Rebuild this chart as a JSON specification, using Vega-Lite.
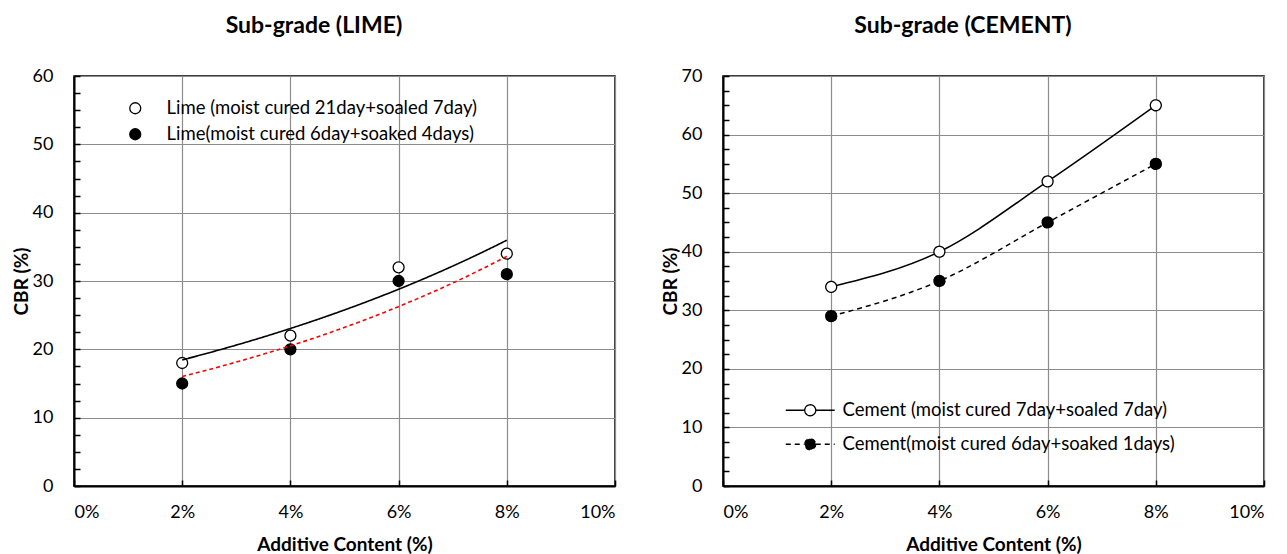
{
  "$schema": "https://vega.github.io/schema/vega-lite/v6.json",
  "background": "white",
  "padding": {"left": 11, "top": 14, "right": 0, "bottom": 0},
  "spacing": 43,
  "config": {
    "font": "Lato",
    "view": {"stroke": "black", "strokeWidth": 1.5},
    "axis": {
      "domainColor": "black",
      "domainWidth": 2,
      "gridColor": "#8c8c8c",
      "gridWidth": 1.2,
      "tickColor": "black",
      "tickWidth": 1.5,
      "tickSize": -6,
      "labelColor": "black",
      "labelFontSize": 18,
      "labelFont": "Lato",
      "titleColor": "black",
      "titleFontSize": 19,
      "titleFontWeight": "bold",
      "titleFont": "Lato"
    },
    "title": {"fontSize": 23, "fontWeight": "bold", "color": "black", "font": "Lato", "frame": "bounds", "anchor": "middle", "offset": 29},
    "legend": {"labelFontSize": 18.5, "labelColor": "black", "labelFont": "Lato", "title": null, "padding": 0, "labelLimit": 600}
  },
  "datasets": {
    "lime": [
      {"series": "Lime (moist cured 21day+soaled 7day)", "x": 0.02, "y": 18},
      {"series": "Lime (moist cured 21day+soaled 7day)", "x": 0.04, "y": 22},
      {"series": "Lime (moist cured 21day+soaled 7day)", "x": 0.06, "y": 32},
      {"series": "Lime (moist cured 21day+soaled 7day)", "x": 0.08, "y": 34},
      {"series": "Lime(moist cured 6day+soaked 4days)", "x": 0.02, "y": 15},
      {"series": "Lime(moist cured 6day+soaked 4days)", "x": 0.04, "y": 20},
      {"series": "Lime(moist cured 6day+soaked 4days)", "x": 0.06, "y": 30},
      {"series": "Lime(moist cured 6day+soaked 4days)", "x": 0.08, "y": 31}
    ],
    "cement": [
      {"series": "Cement (moist cured 7day+soaled 7day)", "x": 0.02, "y": 34},
      {"series": "Cement (moist cured 7day+soaled 7day)", "x": 0.04, "y": 40},
      {"series": "Cement (moist cured 7day+soaled 7day)", "x": 0.06, "y": 52},
      {"series": "Cement (moist cured 7day+soaled 7day)", "x": 0.08, "y": 65},
      {"series": "Cement(moist cured 6day+soaked 1days)", "x": 0.02, "y": 29},
      {"series": "Cement(moist cured 6day+soaked 1days)", "x": 0.04, "y": 35},
      {"series": "Cement(moist cured 6day+soaked 1days)", "x": 0.06, "y": 45},
      {"series": "Cement(moist cured 6day+soaked 1days)", "x": 0.08, "y": 55}
    ]
  },
  "hconcat": [
    {
      "width": 541,
      "height": 410,
      "title": "Sub-grade (LIME)",
      "data": {"name": "lime"},
      "encoding": {
        "x": {"field": "x", "type": "quantitative", "scale": {"domain": [0, 0.1], "nice": false},
          "axis": {"title": "Additive Content (%)", "values": [0, 0.02, 0.04, 0.06, 0.08, 0.1], "format": ".0%", "labelPadding": 23, "titlePadding": 14}},
        "y": {"field": "y", "type": "quantitative", "scale": {"domain": [0, 60], "nice": false},
          "axis": {"title": "CBR (%)", "values": [0, 2.5, 5, 7.5, 10, 12.5, 15, 17.5, 20, 22.5, 25, 27.5, 30, 32.5, 35, 37.5, 40, 42.5, 45, 47.5, 50, 52.5, 55, 57.5, 60],
            "labelExpr": "datum.value % 10 === 0 ? datum.label : ''", "labelOverlap": false, "labelPadding": 27, "titlePadding": 1,
            "gridOpacity": {"condition": {"test": "datum.value % 10 !== 0", "value": 0}, "value": 1}}}
      },
      "layer": [
        {
          "mark": {"type": "point", "shape": "circle", "size": 120, "stroke": "black", "strokeWidth": 1.3, "opacity": 1, "fillOpacity": 1},
          "encoding": {
            "fill": {"field": "series", "type": "nominal",
              "scale": {"domain": ["Lime (moist cured 21day+soaled 7day)", "Lime(moist cured 6day+soaked 4days)"], "range": ["white", "black"]},
              "legend": {"orient": "none", "legendX": 52, "legendY": 23, "symbolType": "circle", "symbolSize": 120, "symbolStrokeColor": "black", "symbolStrokeWidth": 1.3, "labelOffset": 22, "rowPadding": 7}}
          }
        },
        {
          "transform": [{"regression": "y", "on": "x", "groupby": ["series"], "method": "exp"}],
          "mark": {"type": "line", "strokeWidth": 1.6},
          "encoding": {
            "color": {"field": "series", "type": "nominal", "scale": {"domain": ["Lime (moist cured 21day+soaled 7day)", "Lime(moist cured 6day+soaked 4days)"], "range": ["black", "#ff0000"]}, "legend": null},
            "strokeDash": {"field": "series", "type": "nominal", "scale": {"domain": ["Lime (moist cured 21day+soaled 7day)", "Lime(moist cured 6day+soaked 4days)"], "range": [[1, 0], [4, 3]]}, "legend": null}
          }
        }
      ],
      "resolve": {"scale": {"color": "independent", "fill": "independent", "strokeDash": "independent"}}
    },
    {
      "width": 541,
      "height": 410,
      "title": "Sub-grade (CEMENT)",
      "data": {"name": "cement"},
      "encoding": {
        "x": {"field": "x", "type": "quantitative", "scale": {"domain": [0, 0.1], "nice": false},
          "axis": {"title": "Additive Content (%)", "values": [0, 0.02, 0.04, 0.06, 0.08, 0.1], "format": ".0%", "labelPadding": 23, "titlePadding": 14}},
        "y": {"field": "y", "type": "quantitative", "scale": {"domain": [0, 70], "nice": false},
          "axis": {"title": "CBR (%)", "values": [0, 2.5, 5, 7.5, 10, 12.5, 15, 17.5, 20, 22.5, 25, 27.5, 30, 32.5, 35, 37.5, 40, 42.5, 45, 47.5, 50, 52.5, 55, 57.5, 60, 62.5, 65, 67.5, 70],
            "labelExpr": "datum.value % 10 === 0 ? datum.label : ''", "labelOverlap": false, "labelPadding": 27, "titlePadding": 1,
            "gridOpacity": {"condition": {"test": "datum.value % 10 !== 0", "value": 0}, "value": 1}}}
      },
      "layer": [
        {
          "transform": [{"filter": "datum.series === 'Cement (moist cured 7day+soaled 7day)'"}],
          "mark": {"type": "line", "interpolate": "monotone", "color": "black", "strokeWidth": 1.5},
          "encoding": {}
        },
        {
          "transform": [{"filter": "datum.series === 'Cement(moist cured 6day+soaked 1days)'"}],
          "mark": {"type": "line", "interpolate": "monotone", "color": "black", "strokeWidth": 1.5, "strokeDash": [5, 4]},
          "encoding": {}
        },
        {
          "mark": {"type": "point", "shape": "circle", "size": 120, "stroke": "black", "strokeWidth": 1.3, "opacity": 1, "fillOpacity": 1},
          "encoding": {
            "fill": {"field": "series", "type": "nominal",
              "scale": {"domain": ["Cement (moist cured 7day+soaled 7day)", "Cement(moist cured 6day+soaked 1days)"], "range": ["white", "black"]},
              "legend": {"orient": "none", "legendX": 78, "legendY": 325, "symbolType": "M-4.45,0H-1M1,0H4.45M1,0A1,1 0 1,1 -1,0A1,1 0 1,1 1,0Z", "symbolSize": 121, "symbolStrokeColor": "black", "symbolStrokeWidth": 1.3, "labelOffset": 23, "rowPadding": 15}},
            "strokeDash": {"field": "series", "type": "nominal",
              "scale": {"domain": ["Cement (moist cured 7day+soaled 7day)", "Cement(moist cured 6day+soaked 1days)"], "range": [[1, 0], [5, 4]]},
              "legend": {"orient": "none", "legendX": 78, "legendY": 325, "symbolType": "M-4.45,0H-1M1,0H4.45M1,0A1,1 0 1,1 -1,0A1,1 0 1,1 1,0Z", "symbolSize": 121, "symbolStrokeColor": "black", "symbolStrokeWidth": 1.3, "labelOffset": 23, "rowPadding": 15}}
          }
        },
        {
          "transform": [{"filter": "datum.series === 'Cement(moist cured 6day+soaked 1days)'"}],
          "mark": {"type": "point", "shape": "circle", "size": 120, "fill": "black", "stroke": "black", "strokeWidth": 1.3, "opacity": 1, "fillOpacity": 1},
          "encoding": {}
        }
      ],
      "resolve": {"scale": {"fill": "independent", "strokeDash": "independent"}}
    }
  ]
}
